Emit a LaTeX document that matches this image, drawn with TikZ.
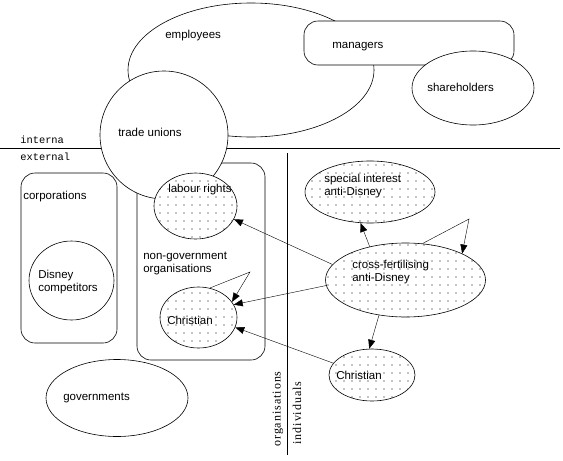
\documentclass[tikz,border=0pt]{standalone}
\usepackage{fontspec}
\setmainfont{Liberation Sans}
\newfontfamily\monolabel{Liberation Mono}
\newfontfamily\seriflabel[LetterSpace=8]{Liberation Serif}
\usetikzlibrary{shapes.geometric,arrows.meta,patterns.meta}
\pgfdeclarelayer{bg}
\pgfsetlayers{bg,main}

\tikzset{
  blob/.style={draw, ellipse, fill=white, inner sep=0pt},
  dotblob/.style={blob, postaction={pattern={Dots[distance=8pt,radius=0.6pt]}}},
  groupbox/.style={draw, rounded corners=14pt, fill=white, inner sep=0pt},
  word/.style={anchor=west, inner sep=0pt, align=left,
    font=\fontsize{11.5}{13}\selectfont},
  link/.style={-{Triangle[length=9pt,width=7pt]}},
}

\begin{document}
\begin{tikzpicture}[x=1pt, y=-1pt, line width=0.6pt]
        \useasboundingbox (0,0) rectangle (563,461);

        % internal side
        \node (employees) [blob, minimum width=246pt, minimum height=134pt] at (251,70) {};
        \node (managers) [groupbox, minimum width=210pt, minimum height=44pt] at (409,43) {};
        \node (shareholders) [blob, minimum width=122pt, minimum height=74pt] at (473,88) {};

        % external side
        \node (ngo) [groupbox, minimum width=128pt, minimum height=197pt] at (201,261.5) {};
        \node (corporations) [groupbox, minimum width=96pt, minimum height=170pt] at (69,258) {};
        \node (competitors) [blob, minimum width=85pt, minimum height=79pt] at (71.5,280.5) {};
        \node (unions) [blob, minimum width=128pt, minimum height=128pt] at (164,135) {};
        \node (labour) [dotblob, minimum width=83pt, minimum height=66pt] at (195.5,206) {};
        \node (christian) [dotblob, minimum width=77pt, minimum height=61pt] at (198.5,317.5) {};
        \node (governments) [blob, minimum width=142pt, minimum height=77pt] at (117,398) {};
        \node (special) [dotblob, minimum width=130pt, minimum height=62pt] at (370,192) {};
        \node (cross) [dotblob, minimum width=160pt, minimum height=74pt] at (405.5,280) {};
        \node (believer) [dotblob, minimum width=86pt, minimum height=52pt] at (372,375) {};

        % texts
        \node (employees-t) [word] at (165,36) {employees};
        \node (managers-t) [word] at (332,47) {managers};
        \node (shareholders-t) [word] at (427,87) {shareholders};
        \node (unions-t) [word] at (118,132) {trade unions};
        \node (labour-t) [word] at (168,190) {labour rights};
        \node (corporations-t) [word] at (23,197) {corporations};
        \node (competitors-t) [word] at (38,282.5) {Disney\\competitors};
        \node (ngo-t) [word] at (143,263.5) {non-government\\organisations};
        \node (christian-t) [word] at (167,320) {Christian};
        \node (governments-t) [word] at (63,398) {governments};
        \node (special-t) [word] at (324,186.5) {special interest\\anti-Disney};
        \node (cross-t) [word] at (352,272) {cross-fertilising\\anti-Disney};
        \node (believer-t) [word] at (336,375) {Christian};

        \node (internal-t) [anchor=west, inner sep=0pt, font=\monolabel\fontsize{10.4}{12}\selectfont] at (20,140) {interna};
        \node (external-t) [anchor=west, inner sep=0pt, font=\monolabel\fontsize{10.4}{12}\selectfont] at (20,157) {external};
        \node (orgs-t) [rotate=90, inner sep=0pt, font=\seriflabel\fontsize{12}{14}\selectfont] at (278,409) {organisations};
        \node (people-t) [rotate=90, inner sep=0pt, font=\seriflabel\fontsize{12}{14}\selectfont] at (297,413) {individuals};

        \coordinate (left end) at (0,148);
        \coordinate (right end) at (560,148);
        \coordinate (split top) at (287,153);
        \coordinate (split bottom) at (287,455);
        \coordinate (ngo loop) at (250,272);
        \coordinate (cross loop) at (469,219);

        \begin{pgfonlayer}{bg}
                \draw (left end) -- (right end);
                \draw (split top) -- (split bottom);
        \end{pgfonlayer}

        \draw [link] (cross.168) -- (labour.341);
        \draw [link] (cross.184) -- (christian.20);
        \draw [link] (believer.163) -- (christian.345);
        \draw [link] (cross.137) -- (special.253);
        \draw [link] (cross.233) -- (believer.96);
        \draw [link] (christian.69) -- (ngo loop) -- (christian.25);
        \draw [link] (cross.65) -- (cross loop) -- (cross.25);
\end{tikzpicture}
\end{document}
